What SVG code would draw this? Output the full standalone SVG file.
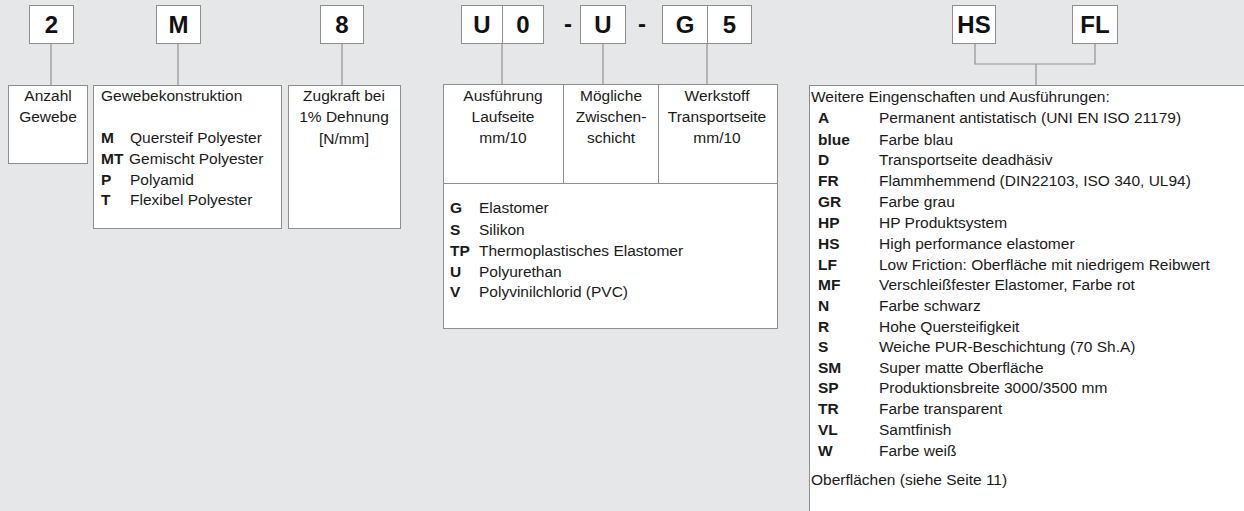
<svg xmlns="http://www.w3.org/2000/svg" width="1244" height="511" viewBox="0 0 1244 511">
<style>
.bg{fill:#e6e7e9}
.box{fill:#fff;stroke:#8e8e8e;stroke-width:1}
.con{fill:none;stroke:#929292;stroke-width:1.2}
.code{font-family:"Liberation Sans",Arial,sans-serif;font-weight:bold;font-size:24px;fill:#111;text-anchor:middle}
.t{font-family:"Liberation Sans",Arial,sans-serif;font-size:15.5px;fill:#1a1a1a}
.c{text-anchor:middle}
.b{font-weight:bold}
</style>
<rect class="bg" x="0" y="0" width="1244" height="511"/>
<g id="connectors">
<path class="con" d="M51 43V85"/>
<path class="con" d="M178 43V85"/>
<path class="con" d="M342 43V85"/>
<path class="con" d="M502 43V84"/>
<path class="con" d="M603 43V84"/>
<path class="con" d="M707 43V84"/>
<path class="con" d="M975 43V64H1095V43"/>
<path class="con" d="M1036 64V85"/>
</g>
<g id="code-2"><rect class="box" x="29.5" y="5.5" width="44" height="38"/><text class="code" x="51.5" y="33">2</text></g>
<g id="code-M"><rect class="box" x="156.5" y="5.5" width="44" height="38"/><text class="code" x="178.5" y="33">M</text></g>
<g id="code-8"><rect class="box" x="320.5" y="5.5" width="43" height="38"/><text class="code" x="342" y="33">8</text></g>
<g id="code-U0"><rect class="box" x="461.5" y="5.5" width="41" height="38"/><text class="code" x="482" y="33">U</text><rect class="box" x="502.5" y="5.5" width="41" height="38"/><text class="code" x="523" y="33">0</text></g>
<g id="dash1"><text class="code" x="568" y="32">-</text></g>
<g id="code-U"><rect class="box" x="580.5" y="5.5" width="45" height="38"/><text class="code" x="603" y="33">U</text></g>
<g id="dash2"><text class="code" x="642" y="32">-</text></g>
<g id="code-G5"><rect class="box" x="662.5" y="5.5" width="45" height="38"/><text class="code" x="685" y="33">G</text><rect class="box" x="707.5" y="5.5" width="44" height="38"/><text class="code" x="729.5" y="33">5</text></g>
<g id="code-HS"><rect class="box" x="952.5" y="5.5" width="43" height="38"/><text class="code" x="974" y="33">HS</text></g>
<g id="code-FL"><rect class="box" x="1072.5" y="5.5" width="45" height="38"/><text class="code" x="1095" y="33">FL</text></g>
<g id="anzahl"><rect class="box" x="8.5" y="85.5" width="79" height="78"/>
<text class="t c" x="48" y="101">Anzahl</text><text class="t c" x="48" y="122">Gewebe</text></g>
<g id="gewebe"><rect class="box" x="93.5" y="85.5" width="188" height="143"/>
<text class="t" x="101" y="101">Gewebekonstruktion</text>
<text class="t b" x="101" y="143">M</text><text class="t" x="130" y="143">Quersteif Polyester</text>
<text class="t b" x="101" y="164">MT</text><text class="t" x="129" y="164">Gemischt Polyester</text>
<text class="t b" x="101" y="185">P</text><text class="t" x="130" y="185">Polyamid</text>
<text class="t b" x="101" y="205">T</text><text class="t" x="130" y="205">Flexibel Polyester</text></g>
<g id="zugkraft"><rect class="box" x="288.5" y="85.5" width="112" height="143"/>
<text class="t c" x="344" y="101">Zugkraft bei</text><text class="t c" x="344" y="122">1% Dehnung</text><text class="t c" x="344" y="144">[N/mm]</text></g>
<g id="ausfuehrung"><rect class="box" x="443.5" y="84.5" width="334" height="244"/>
<line class="box" x1="443.5" y1="183.5" x2="777.5" y2="183.5"/>
<line class="box" x1="563.5" y1="84.5" x2="563.5" y2="183.5"/>
<line class="box" x1="658.5" y1="84.5" x2="658.5" y2="183.5"/>
<text class="t c" x="503" y="101">Ausführung</text><text class="t c" x="503" y="122">Laufseite</text><text class="t c" x="503" y="143">mm/10</text>
<text class="t c" x="611" y="101">Mögliche</text><text class="t c" x="611" y="122">Zwischen-</text><text class="t c" x="611" y="143">schicht</text>
<text class="t c" x="717" y="101">Werkstoff</text><text class="t c" x="717" y="122">Transportseite</text><text class="t c" x="717" y="143">mm/10</text>
<text class="t b" x="450" y="213">G</text><text class="t" x="479" y="213">Elastomer</text>
<text class="t b" x="450" y="235">S</text><text class="t" x="479" y="235">Silikon</text>
<text class="t b" x="450" y="256">TP</text><text class="t" x="479" y="256">Thermoplastisches Elastomer</text>
<text class="t b" x="450" y="277">U</text><text class="t" x="479" y="277">Polyurethan</text>
<text class="t b" x="450" y="297">V</text><text class="t" x="479" y="297">Polyvinilchlorid (PVC)</text></g>
<g id="weitere"><rect class="box" x="809.5" y="85.5" width="450" height="440"/>
<text class="t" x="811" y="102">Weitere Eingenschaften und Ausführungen:</text>
<text class="t b" x="818" y="123">A</text><text class="t" x="879" y="123">Permanent antistatisch (UNI EN ISO 21179)</text>
<text class="t b" x="818" y="145">blue</text><text class="t" x="879" y="145">Farbe blau</text>
<text class="t b" x="818" y="165">D</text><text class="t" x="879" y="165">Transportseite deadhäsiv</text>
<text class="t b" x="818" y="186">FR</text><text class="t" x="879" y="186">Flammhemmend (DIN22103, ISO 340, UL94)</text>
<text class="t b" x="818" y="207">GR</text><text class="t" x="879" y="207">Farbe grau</text>
<text class="t b" x="818" y="228">HP</text><text class="t" x="879" y="228">HP Produktsystem</text>
<text class="t b" x="818" y="249">HS</text><text class="t" x="879" y="249">High performance elastomer</text>
<text class="t b" x="818" y="270">LF</text><text class="t" x="879" y="270">Low Friction: Oberfläche mit niedrigem Reibwert</text>
<text class="t b" x="818" y="290">MF</text><text class="t" x="879" y="290">Verschleißfester Elastomer, Farbe rot</text>
<text class="t b" x="818" y="311">N</text><text class="t" x="879" y="311">Farbe schwarz</text>
<text class="t b" x="818" y="332">R</text><text class="t" x="879" y="332">Hohe Quersteifigkeit</text>
<text class="t b" x="818" y="352">S</text><text class="t" x="879" y="352">Weiche PUR-Beschichtung (70 Sh.A)</text>
<text class="t b" x="818" y="373">SM</text><text class="t" x="879" y="373">Super matte Oberfläche</text>
<text class="t b" x="818" y="393">SP</text><text class="t" x="879" y="393">Produktionsbreite 3000/3500 mm</text>
<text class="t b" x="818" y="414">TR</text><text class="t" x="879" y="414">Farbe transparent</text>
<text class="t b" x="818" y="435">VL</text><text class="t" x="879" y="435">Samtfinish</text>
<text class="t b" x="818" y="456">W</text><text class="t" x="879" y="456">Farbe weiß</text>
<text class="t" x="811" y="485">Oberflächen (siehe Seite 11)</text></g>
</svg>
